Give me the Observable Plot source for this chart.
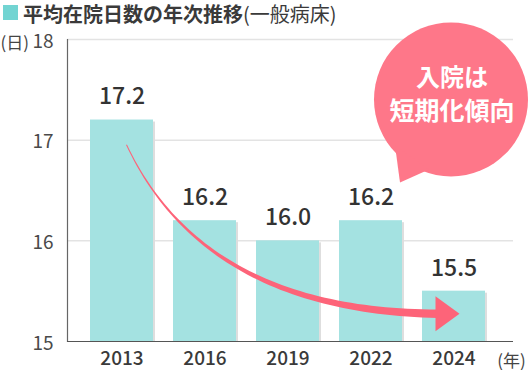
<!DOCTYPE html>
<html>
<head>
<meta charset="utf-8">
<script src="https://cdn.jsdelivr.net/npm/d3@7"></script>
<script src="https://cdn.jsdelivr.net/npm/@observablehq/plot@0.6"></script>
<style>
  html, body { margin: 0; padding: 0; background: #fff; }
  #wrap { width: 530px; height: 370px; font-family: "Noto Sans CJK JP", "Noto Sans", sans-serif; }
  #title { box-sizing: border-box; height: 28px; padding-left: 3px; font-size: 20px; line-height: 28px; color: #3a3a3a; white-space: nowrap; display: flex; align-items: center; }
  #title .sq { display: inline-block; width: 15px; height: 15px; background: #72d4d2; margin-right: 5px; margin-top: -3px; }
  #title b { font-weight: 700; }
  #title span.sub { font-weight: 400; }
  #chart svg { display: block; }
</style>
</head>
<body>
<div id="wrap">
  <div id="title"><span class="sq"></span><b>平均在院日数の年次推移</b><span class="sub">(一般病床)</span></div>
  <div id="chart"></div>
</div>
<script>
// ---- data ----
const years = ["2013", "2016", "2019", "2022", "2024"];
const days = [17.2, 16.2, 16.0, 16.2, 15.5];
const yTicks = [15, 16, 17, 18];
const yUnit = "(日)";
const xUnit = "(年)";
const bubbleLines = ["入院は", "短期化傾向"];
// arrow annotation anchors, in data terms (category, value)
const arrowStart = {year: "2013", value: 16.95};
const arrowControl = {year: "2016", value: 15.3};
const arrowEnd = {year: "2024", value: 15.27};
const bubbleAnchor = {year: "2024", value: 17.4};

const data = years.map((y, i) => ({year: y, value: days[i]}));

const font = '"Noto Sans CJK JP", "Noto Sans", sans-serif';

function arrowMark(index, scales) {
  const sx = scales.x, sy = scales.y;
  const bw = sx.bandwidth ? sx.bandwidth() : 0;
  const cx = (k) => sx(k) + bw / 2;
  const p0 = [cx(arrowStart.year) + 5, sy(arrowStart.value)];
  const c = [cx(arrowControl.year), sy(arrowControl.value)];
  const p2 = [cx(arrowEnd.year) - 16, sy(arrowEnd.value)];
  const N = 60, left = [], right = [];
  for (let i = 0; i <= N; i++) {
    const t = i / N, u = 1 - t;
    const x = u*u*p0[0] + 2*u*t*c[0] + t*t*p2[0];
    const y = u*u*p0[1] + 2*u*t*c[1] + t*t*p2[1];
    const dx = 2*u*(c[0]-p0[0]) + 2*t*(p2[0]-c[0]);
    const dy = 2*u*(c[1]-p0[1]) + 2*t*(p2[1]-c[1]);
    const L = Math.hypot(dx, dy) || 1;
    const nx = -dy / L, ny = dx / L;
    const w = (1 + 7.5 * Math.pow(t, 1.3)) / 2;
    left.push([x + nx*w, y + ny*w]);
    right.push([x - nx*w, y - ny*w]);
  }
  const pts = left.concat(right.reverse());
  const g = d3.create("svg:g");
  g.append("path").attr("d", "M" + pts.map(p => p.join(",")).join("L") + "Z").attr("fill", "#fd6479");
  const hx = p2[0] - 2, hy = p2[1];
  g.append("path")
    .attr("d", `M${hx},${hy - 17.5}L${hx + 24},${hy}L${hx},${hy + 17.5}Z`)
    .attr("fill", "#fd6479");
  return g.node();
}

function bubbleMark(index, scales) {
  const sx = scales.x, sy = scales.y;
  const bw = sx.bandwidth ? sx.bandwidth() : 0;
  const x = sx(bubbleAnchor.year) + bw / 2 - 2.5;
  const y = sy(bubbleAnchor.value);
  const r = 77;
  const g = d3.create("svg:g");
  g.append("circle").attr("cx", x).attr("cy", y).attr("r", r).attr("fill", "#fe7789");
  g.append("path")
    .attr("d", `M${x - 56},${y + 46}L${x - 51},${y + 83}L${x - 22},${y + 70}Z`)
    .attr("fill", "#fe7789");
  return g.node();
}

const plot = Plot.plot({
  width: 530,
  height: 342,
  marginLeft: 67,
  marginRight: 17,
  marginTop: 11,
  marginBottom: 29,
  style: {fontFamily: font, background: "transparent", overflow: "visible"},
  x: {domain: years, range: [90, 485], paddingInner: 0.241, paddingOuter: 0, label: null},
  y: {domain: [15, 18], label: null},
  marks: [
    Plot.ruleY([16, 17, 18], {stroke: "#e3e3e3", strokeWidth: 1.5}),
    Plot.barY(data, {x: "year", y1: 15, y2: "value", fill: "#dedede", dx: 2, dy: 2, insetBottom: 2}),
    Plot.barY(data, {x: "year", y1: 15, y2: "value", fill: "#a4e2e1"}),
    Plot.frame({anchor: "left", stroke: "#666", strokeWidth: 1.2}),
    Plot.ruleY([15], {stroke: "#555", strokeWidth: 1.2}),
    Plot.axisY({ticks: yTicks, tickSize: 0, tickPadding: 14, fontSize: 19, fill: "#4a4a4a", dy: 2, label: null, tickFormat: d => String(d)}),
    Plot.axisX({tickSize: 0, tickPadding: 10, fontSize: 19, fill: "#3a3a3a", fontWeight: 500, label: null}),
    Plot.text(data, {x: "year", y: "value", text: d => d.value.toFixed(1), dy: -23, fontSize: 23, fontWeight: 500, fill: "#333"}),
    arrowMark,
    bubbleMark,
    Plot.text([bubbleLines[0]], {x: () => bubbleAnchor.year, y: () => bubbleAnchor.value, text: d => d, dx: -2, dy: -22, fontSize: 24, fontWeight: 700, fill: "#fff"}),
    Plot.text([bubbleLines[1]], {x: () => bubbleAnchor.year, y: () => bubbleAnchor.value, text: d => d, dx: -2, dy: 12, fontSize: 25, fontWeight: 700, fill: "#fff"}),
    Plot.text([yUnit], {frameAnchor: "top-left", text: d => d, dx: -67, dy: -3, textAnchor: "start", fontSize: 17, fill: "#444"}),
    Plot.text([xUnit], {frameAnchor: "bottom-right", text: d => d, dx: -2, dy: 25, textAnchor: "middle", fontSize: 17, fill: "#444"})
  ]
});
document.getElementById("chart").appendChild(plot);
</script>
</body>
</html>
